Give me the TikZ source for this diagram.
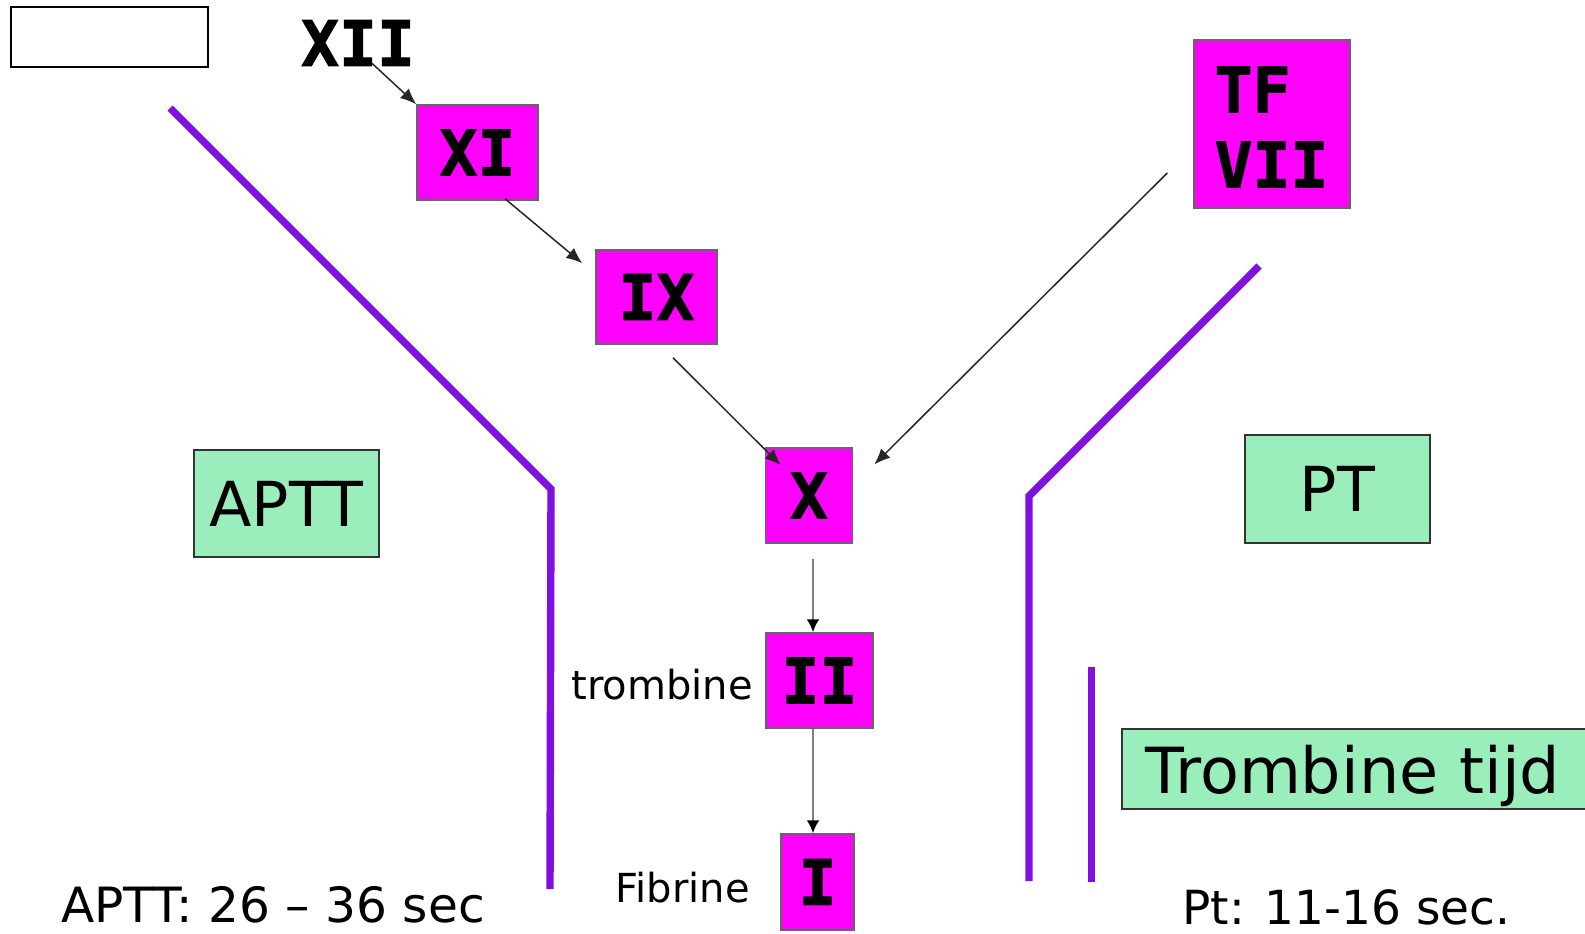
\documentclass[tikz,border=0pt]{standalone}
\usepackage{fontspec}
\setmainfont{DejaVu Sans}
\newfontfamily\numfont[BoldFont={DejaVu Sans Mono Bold}, BoldFeatures={FakeBold=1.6}]{DejaVu Sans Mono}
\usetikzlibrary{arrows.meta,calc}
\definecolor{fuch}{RGB}{255,0,255}
\definecolor{mint}{RGB}{153,238,187}
\definecolor{wallc}{RGB}{128,16,224}
\tikzset{
  factor/.style={draw=black!60, line width=0.75pt, fill=fuch, inner sep=0pt,
    font=\numfont\bfseries\fontsize{31.5}{37.5}\selectfont},
  numtext/.style={inner sep=0pt, font=\numfont\bfseries\fontsize{31.5}{37.5}\selectfont},
  testbox/.style={draw=black!80, fill=mint, line width=0.75pt, inner sep=0pt,
    font=\fontsize{31}{37}\selectfont},
  wall/.style={draw=wallc, line width=3.7pt},
  arr/.style={-{Latex[length=8pt,width=6.5pt]}, line width=0.75pt, draw=black!85},
  varr/.style={-{Latex[length=6.5pt,width=6.5pt,color=black]}, line width=1.2pt, draw=black!50},
  lbl/.style={inner sep=0pt, font=\fontsize{20}{24}\selectfont},
  big/.style={inner sep=0pt, font=\fontsize{24.3}{28}\selectfont}
}
\begin{document}
\begin{tikzpicture}[x=0.5pt, y=-0.5pt]
\useasboundingbox (0,0) rectangle (1585,933);
% empty box
\node[draw=black, line width=1pt, minimum width=98.5pt, minimum height=30pt, inner sep=0pt] (blank) at (109.5,37) {};
% factors
\node[numtext] (XII) at (358,43) {XII};
\node[factor, minimum width=60.5pt, minimum height=47.5pt] (XI) at (477.5,152.5) {XI};
\node[factor, minimum width=60.5pt, minimum height=47pt] (IX) at (656.5,297) {IX};
\node[factor, minimum width=43.5pt, minimum height=47.5pt] (X) at (809,495.5) {X};
\node[factor, minimum width=53.5pt, minimum height=47.5pt] (II) at (819.5,680.5) {II};
\node[factor, minimum width=36.5pt, minimum height=48pt] (I) at (817.5,882) {I};
\node[factor, minimum width=78pt, minimum height=84pt] (TF) at (1272,124) {};
\node[numtext, align=left] (TFtext) at (1271.5,127) {TF\\VII};
% test boxes
\node[testbox, minimum width=92.5pt, minimum height=53.5pt] (APTT) at (286.5,503.5) {APTT};
\node[testbox, minimum width=92.5pt, minimum height=54pt] (PT) at (1337.5,489) {PT};
\node[testbox, minimum height=40pt, text width=211pt, text depth=0pt, align=left, inner xsep=12pt, anchor=west,
  font=\fontsize{31.8}{37}\selectfont] (TT) at (1121,769) {Trombine tijd};
% labels
\node[lbl, anchor=base east] (trombine) at (753,699) {trombine};
\node[lbl, anchor=base east] (fibrine) at (750,902) {Fibrine};
\node[big, anchor=base] (aptttime) at (273,922) {APTT: 26 – 36 sec};
\node[big, anchor=base, font=\fontsize{23.5}{28}\selectfont] (pttime) at (1346.5,924) {Pt: 11-16 sec.};
% walls
\draw[wall] (170,108) -- (551,489) -- (550,889);
\draw[wall] (1259,266) -- (1029,496) -- (1029,881);
\draw[wall] (1091.5,667) -- (1091.5,882);
% arrows
\draw[arr] ($(XII.south)+(14,-3)$) -- (XI.north west);
\draw[arr] ($(XI.south)+(27.5,-2)$) -- ($(IX.north west)+(-13,14)$);
\draw[arr] ($(IX.south)+(16.5,13)$) -- ($(X.north west)+(16,18)$);
\draw[arr] ($(TF.west)+(-26,49)$) -- ($(X.east)+(21,-31)$);
\draw[varr] ($(X.south)+(4,15)$) -- ($(II.north)+(-6.5,0)$);
\draw[varr] ($(II.south)+(-6.5,0)$) -- ($(I.north)+(-4.5,0)$);
\end{tikzpicture}
\end{document}
